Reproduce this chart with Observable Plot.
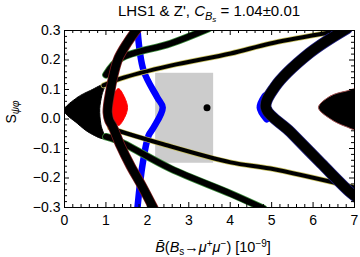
<!DOCTYPE html>
<html><head><meta charset="utf-8">
<script src="https://cdn.jsdelivr.net/npm/d3@7"></script>
<script src="https://cdn.jsdelivr.net/npm/@observablehq/plot@0.6"></script>
<style>
body{margin:0;background:#fff;}
#wrap{position:relative;width:360px;height:257px;font-family:"Liberation Sans",Arial,sans-serif;color:#000;}
#wrap svg{position:absolute;left:0;top:0;}
.t{position:absolute;white-space:nowrap;line-height:14px;}
</style></head><body>
<div id="wrap">
<div class="t" style="left:209px;top:4px;font-size:15px;transform:translateX(-50%);">LHS1 &amp; Z', <i>C</i><span style="position:relative;top:4px;font-size:11px;font-style:italic">B<span style="position:relative;top:2px;font-size:8px">s</span></span> = 1.04±0.01</div>
<div class="t" style="left:213px;top:240px;font-size:14.5px;transform:translateX(-50%);"><i>B&#772;</i>(<i>B</i><span style="position:relative;top:3px;font-size:10px">s</span>→<i>μ</i><span style="position:relative;top:-5px;font-size:10px">+</span><i>μ</i><span style="position:relative;top:-5px;font-size:10px">−</span>) [10<span style="position:relative;top:-5px;font-size:10px">−9</span>]</div>
<div class="t" style="left:12px;top:112px;font-size:14px;transform:translate(-50%,-50%) rotate(-90deg);">S<span style="position:relative;top:3px;font-size:10px;font-style:italic">ψφ</span></div>
</div>
<script>
// ---- data ----
const xTicks = [0,1,2,3,4,5,6,7];
const yTicks = [-0.3,-0.2,-0.1,0,0.1,0.2,0.3];
const xMinor = [0.2,0.4,0.6,0.8,1.2,1.4,1.6,1.8,2.2,2.4,2.6,2.8,3.2,3.4,3.6,3.8,4.2,4.4,4.6,4.8,5.2,5.4,5.6,5.8,6.2,6.4,6.6,6.8];
const yMinor = [-0.28,-0.26,-0.24,-0.22,-0.18,-0.16,-0.14,-0.12,-0.08,-0.06,-0.04,-0.02,0.02,0.04,0.06,0.08,0.12,0.14,0.16,0.18,0.22,0.24,0.26,0.28];

const expBox = [{x1:2.2, x2:3.6, y1:-0.15, y2:0.155}];
const smPoint = [[3.44, 0.038]];

const leftLens = [[0,0.029],[0.31,0.073],[0.63,0.097],[0.96,0.116],[0.9,0.08],[0.85,0.035],[0.88,-0.02],[0.96,-0.066],[0.63,-0.049],[0.31,-0.015]];
const redLens = [[1.30,0.103],[1.45,0.073],[1.52,0.039],[1.45,0.005],[1.30,-0.022],[1.16,0.012],[1.11,0.039],[1.16,0.073]];
const rightLens = [[6.13,0.039],[6.42,0.078],[6.78,0.094],[7.1,0.10],[7.1,-0.035],[6.78,-0.025],[6.42,0.0]];

const curveA = [[1.76,0.307],[1.52,0.259],[1.30,0.205],[1.18,0.147],[1.10,0.090],[1.05,0.046],[1.04,0.022],[1.08,-0.005],[1.16,-0.025],[1.35,-0.090],[1.59,-0.158],[1.86,-0.225],[2.15,-0.303]];
const curveBlue = [[1.76,0.307],[1.91,0.164],[2.24,0.073],[2.37,0.039],[2.15,-0.029],[2.03,-0.056],[1.88,-0.158],[1.76,-0.303]];
const curveB = [[6.82,0.307],[5.90,0.222],[5.07,0.107],[4.86,0.039],[5.46,-0.045],[6.20,-0.151],[6.90,-0.249],[7.1,-0.27]];
const blueTip = [[4.84,0.078],[4.72,0.039],[4.88,0.0]];
const y1Line = [[0.94,0.114],[1.35,0.137],[2.56,0.181],[4.01,0.222],[4.97,0.256],[6.66,0.300],[6.9,0.307]];
const y2Line = [[1.10,-0.03],[1.28,-0.039],[2.32,-0.083],[4.01,-0.147],[4.97,-0.168],[7.0,-0.232]];
const g1Line = [[1.0,0.15],[1.35,0.205],[2.56,0.256],[3.48,0.307]];
const g2Line = [[1.0,-0.06],[1.28,-0.073],[2.56,-0.168],[4.01,-0.253],[4.8,-0.303]];

const fmtY = d => d === 0 ? "0.0" : (d < 0 ? "\u2212" : "") + Math.abs(d).toFixed(1);
const H = 177, W = 290;

const halo = (data, c, w) => [
  Plot.line(data, {stroke: c, strokeWidth: w + 1.5, curve: "catmull-rom", clip: true}),
  Plot.line(data, {stroke: "black", strokeWidth: w, curve: "catmull-rom", clip: true})
];

const chart = Plot.plot({
  width: 360, height: 257,
  marginLeft: 64, marginRight: 6, marginTop: 30, marginBottom: 50,
  x: {domain: [0, 7], axis: null},
  y: {domain: [-0.3, 0.3], axis: null},
  style: {fontFamily: "Liberation Sans, Arial, sans-serif", fontSize: "13px", background: "white"},
  marks: [
    Plot.rect(expBox, {x1: "x1", x2: "x2", y1: "y1", y2: "y2", fill: "#cccccc"}),
    Plot.line(leftLens, {fill: "black", stroke: "black", strokeWidth: 1, curve: "catmull-rom-closed", clip: true}),
    Plot.line(rightLens, {fill: "black", stroke: "#a05050", strokeWidth: 1, curve: "catmull-rom-closed", clip: true}),
    Plot.line(redLens, {fill: "red", stroke: "red", strokeWidth: 1, curve: "catmull-rom-closed", clip: true}),
    Plot.line(curveBlue, {stroke: "blue", strokeWidth: 6.5, curve: "catmull-rom", clip: true}),
    ...halo(g1Line, "#3c8c3c", 6),
    ...halo(g2Line, "#3c8c3c", 6),
    ...halo(y1Line, "#c8c060", 4),
    ...halo(y2Line, "#c8c060", 4),
    ...halo(curveA, "#802020", 8.5),
    Plot.line(blueTip, {stroke: "blue", strokeWidth: 7, curve: "catmull-rom", clip: true}),
    ...halo(curveB, "#202080", 10),
    Plot.dot(smPoint, {r: 3.5, fill: "black"}),
    Plot.frame({stroke: "black"}),
    Plot.ruleX(xTicks, {insetTop: H - 5}),
    Plot.ruleX(xTicks, {insetBottom: H - 5}),
    Plot.ruleX(xMinor, {insetTop: H - 3}),
    Plot.ruleX(xMinor, {insetBottom: H - 3}),
    Plot.ruleY(yTicks, {insetRight: W - 5}),
    Plot.ruleY(yTicks, {insetLeft: W - 5}),
    Plot.ruleY(yMinor, {insetRight: W - 3}),
    Plot.ruleY(yMinor, {insetLeft: W - 3}),
    Plot.axisX(xTicks, {tickSize: 0, tickPadding: 8, fontSize: 14}),
    Plot.axisY(yTicks, {tickSize: 0, tickPadding: 4, tickFormat: fmtY, fontSize: 14})
  ]
});
document.getElementById("wrap").prepend(chart);
</script>
</body></html>
